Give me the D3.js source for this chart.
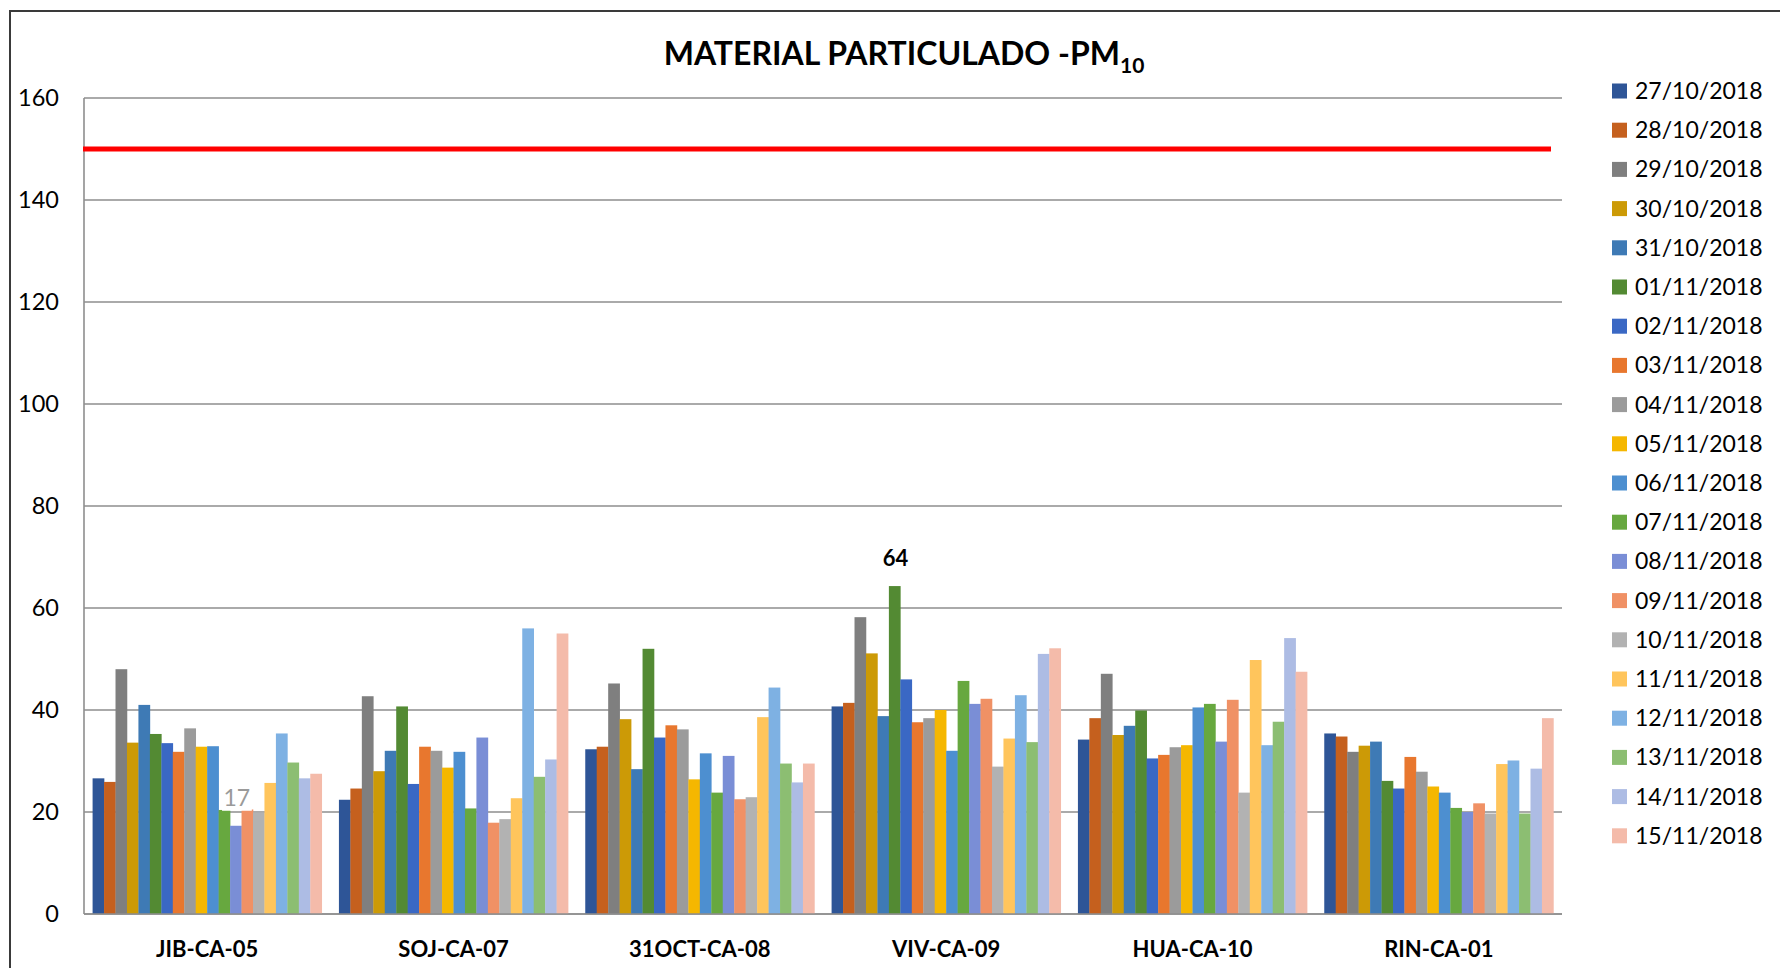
<!DOCTYPE html>
<html>
<head>
<meta charset="utf-8">
<script src="https://cdn.jsdelivr.net/npm/d3@7"></script>
<style>
    body { margin: 0; background: #fff; }
    svg { display: block; font-family: Lato, "Open Sans", sans-serif; }
</style>
</head>
<body>
<svg id="chart" width="1780" height="968"></svg>
<script>
// Stations (x categories)
var stations = ["JIB-CA-05", "SOJ-CA-07", "31OCT-CA-08", "VIV-CA-09", "HUA-CA-10", "RIN-CA-01"];

// Sampling dates (one series each)
var dates = ["27/10/2018", "28/10/2018", "29/10/2018", "30/10/2018", "31/10/2018",
             "01/11/2018", "02/11/2018", "03/11/2018", "04/11/2018", "05/11/2018",
             "06/11/2018", "07/11/2018", "08/11/2018", "09/11/2018", "10/11/2018",
             "11/11/2018", "12/11/2018", "13/11/2018", "14/11/2018", "15/11/2018"];

// PM10 per station, in date order (ug/m3)
var jib   = [26.6, 25.9, 48.0, 33.6, 41.0, 35.3, 33.5, 31.8, 36.4, 32.8, 32.9, 20.4, 17.3, 20.5, 19.9, 25.7, 35.4, 29.7, 26.6, 27.5];
var soj   = [22.4, 24.6, 42.7, 28.0, 32.0, 40.7, 25.5, 32.8, 32.0, 28.7, 31.8, 20.7, 34.6, 17.9, 18.6, 22.7, 56.0, 26.9, 30.3, 55.0];
var oct31 = [32.3, 32.8, 45.2, 38.2, 28.4, 52.0, 34.6, 37.0, 36.2, 26.4, 31.5, 23.8, 31.0, 22.5, 22.9, 38.6, 44.4, 29.5, 25.8, 29.5];
var viv   = [40.7, 41.4, 58.2, 51.1, 38.8, 64.3, 46.0, 37.6, 38.4, 40.0, 32.0, 45.7, 41.2, 42.2, 28.9, 34.4, 42.9, 33.7, 51.0, 52.1];
var hua   = [34.2, 38.4, 47.1, 35.1, 36.9, 39.9, 30.5, 31.2, 32.7, 33.1, 40.5, 41.2, 33.8, 42.0, 23.8, 49.8, 33.1, 37.7, 54.1, 47.5];
var rin   = [35.4, 34.8, 31.8, 33.0, 33.8, 26.1, 24.6, 30.8, 27.9, 25.0, 23.8, 20.8, 20.0, 21.7, 19.7, 29.4, 30.1, 19.7, 28.5, 38.4];

// Limit line (ECA PM10, 24 h)
var limitValue = 150;

// y axis ticks
var yTicks = [0, 20, 40, 60, 80, 100, 120, 140, 160];

// labelled bars: [station, date, text]
var barLabels = [["JIB-CA-05", "08/11/2018", "17"], ["VIV-CA-09", "01/11/2018", "64"]];

var colors = ["#2e5597", "#c5601e", "#7f7f7f", "#cc9a06", "#3e7ab5", "#538a33", "#3a68c4",
              "#e8772e", "#9b9b9b", "#f5b700", "#4d8fd0", "#67a83f", "#7a8ed6", "#f09165",
              "#b2b2b2", "#ffc55c", "#7eb1e3", "#8cbe72", "#adbce4", "#f4bbaa"];

var stationValues = [jib, soj, oct31, viv, hua, rin];

var svg = d3.select("#chart");

// outer chart frame (runs off the right / bottom edge like the picture)
svg.append("rect")
    .attr("x", 10).attr("y", 11)
    .attr("width", 1800).attr("height", 1000)
    .attr("fill", "none")
    .attr("stroke", "#3a3a3a")
    .attr("stroke-width", 2);

var plot = {left: 84, right: 1562, top: 98, bottom: 914};

var x0 = d3.scaleBand()
    .domain(stations)
    .range([plot.left, plot.right])
    .padding(0);

// Excel-like clustering: gap width 150% of one bar
var x1 = d3.scaleBand()
    .domain(dates)
    .range([0, x0.bandwidth()])
    .paddingInner(0)
    .paddingOuter(0.75);

var y = d3.scaleLinear()
    .domain([0, 160])
    .range([plot.bottom, plot.top]);

var color = d3.scaleOrdinal().domain(dates).range(colors);

// gridlines
svg.append("g")
    .attr("class", "grid")
    .selectAll("line")
    .data(yTicks)
    .enter().append("line")
    .attr("x1", plot.left)
    .attr("x2", plot.right)
    .attr("y1", function(d) { return y(d); })
    .attr("y2", function(d) { return y(d); })
    .attr("stroke", "#8e8e8e")
    .attr("stroke-width", 1.6);

// left axis line
svg.append("line")
    .attr("x1", plot.left).attr("x2", plot.left)
    .attr("y1", plot.top).attr("y2", plot.bottom)
    .attr("stroke", "#8e8e8e")
    .attr("stroke-width", 1.6);

// y tick labels
var yAxis = svg.append("g")
    .attr("transform", "translate(59,0)")
    .call(d3.axisLeft(y).tickValues(yTicks).tickSize(0).tickPadding(0));
yAxis.select(".domain").remove();
yAxis.selectAll("text")
    .attr("font-family", "Lato, 'Open Sans', sans-serif")
    .attr("font-size", 23.5)
    .attr("fill", "#000");

// bars
var groups = svg.append("g")
    .selectAll("g")
    .data(stations)
    .enter().append("g")
    .attr("transform", function(s) { return "translate(" + x0(s) + ",0)"; });

groups.selectAll("rect")
    .data(function(s, i) {
        return dates.map(function(d, j) { return {station: s, date: d, value: stationValues[i][j]}; });
    })
    .enter().append("rect")
    .attr("x", function(d) { return x1(d.date); })
    .attr("width", x1.bandwidth() + 0.3)
    .attr("y", function(d) { return y(d.value); })
    .attr("height", function(d) { return y(0) - y(d.value); })
    .attr("fill", function(d) { return color(d.date); });

// bottom axis line
svg.append("line")
    .attr("x1", plot.left).attr("x2", plot.right)
    .attr("y1", plot.bottom).attr("y2", plot.bottom)
    .attr("stroke", "#8e8e8e")
    .attr("stroke-width", 1.6);

// x axis labels
var xAxis = svg.append("g")
    .attr("transform", "translate(0," + plot.bottom + ")")
    .call(d3.axisBottom(x0).tickSize(0).tickPadding(27));
xAxis.select(".domain").remove();
xAxis.selectAll("text")
    .attr("font-family", "Lato, 'Open Sans', sans-serif")
    .attr("font-size", 22)
    .attr("font-weight", "bold")
    .attr("fill", "#000");

// limit line at 150
svg.append("line")
    .attr("x1", plot.left - 1)
    .attr("x2", 1551)
    .attr("y1", y(limitValue))
    .attr("y2", y(limitValue))
    .attr("stroke", "#ff0000")
    .attr("stroke-width", 5);

// data labels
barLabels.forEach(function(l) {
    var i = stations.indexOf(l[0]);
    var j = dates.indexOf(l[1]);
    var cx = x0(l[0]) + x1(l[1]) + x1.bandwidth() / 2;
    var top = y(stationValues[i][j]);
    var g = svg.append("g");
    var t = g.append("text")
        .attr("x", cx + 1)
        .attr("y", top - 20)
        .attr("text-anchor", "middle")
        .attr("font-size", 22)
        .attr("font-weight", "bold")
        .text(l[2]);
    if (l[2] === "17") {
        // this one sits on a white box, greyed out
        var bb = t.node().getBBox();
        g.insert("rect", "text")
            .attr("x", bb.x - 2).attr("y", bb.y + 2)
            .attr("width", bb.width + 4).attr("height", bb.height - 2)
            .attr("fill", "#fff");
        t.attr("fill", "#9a9a9a").attr("font-weight", "normal").attr("font-size", 23);
    } else {
        t.attr("fill", "#000");
    }
});

// title
var title = svg.append("text")
    .attr("x", 904)
    .attr("y", 65)
    .attr("text-anchor", "middle")
    .attr("font-size", 32)
    .attr("font-weight", "bold")
    .attr("fill", "#000");
title.append("tspan").text("MATERIAL PARTICULADO -PM");
title.append("tspan")
    .attr("font-size", 21)
    .attr("dy", 8)
    .text("10");

// legend
var legend = svg.append("g")
    .selectAll("g")
    .data(dates)
    .enter().append("g")
    .attr("transform", function(d, i) { return "translate(1612," + (91 + i * 39.2) + ")"; });

legend.append("rect")
    .attr("x", 0)
    .attr("y", -7.5)
    .attr("width", 15)
    .attr("height", 15)
    .attr("fill", function(d) { return color(d); });

legend.append("text")
    .attr("x", 23)
    .attr("y", 0)
    .attr("dy", "0.35em")
    .attr("font-size", 23)
    .attr("fill", "#000")
    .text(function(d) { return d; });
</script>
</body>
</html>
